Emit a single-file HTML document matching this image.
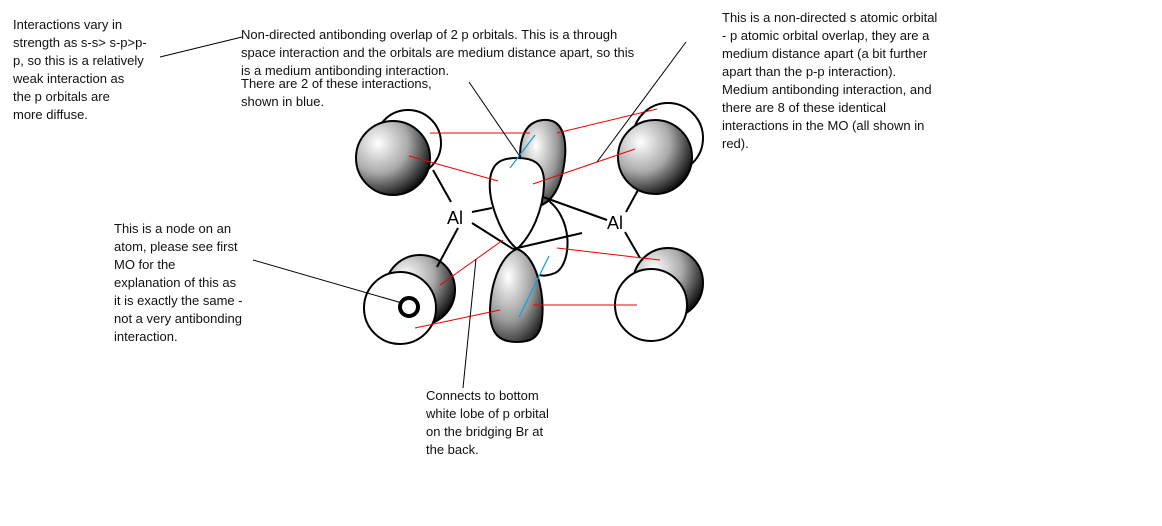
<!DOCTYPE html>
<html><head><meta charset="utf-8"><style>
body{margin:0;width:1162px;height:526px;background:#fff;position:relative;overflow:hidden;font-family:"Liberation Sans",sans-serif;}
.t{position:absolute;font-size:13px;line-height:18px;color:#111;white-space:nowrap;}
svg{position:absolute;left:0;top:0;}
</style></head><body>
<svg width="1162" height="526" viewBox="0 0 1162 526">
<defs>
<radialGradient id="g" cx="0.3" cy="0.3" r="0.8">
<stop offset="0" stop-color="#fff"/><stop offset="0.5" stop-color="#aaa"/><stop offset="0.9" stop-color="#222"/><stop offset="1" stop-color="#000"/>
</radialGradient>
<radialGradient id="g2" cx="0.35" cy="0.3" r="0.8">
<stop offset="0" stop-color="#fff"/><stop offset="0.6" stop-color="#999"/><stop offset="1" stop-color="#222"/>
</radialGradient>
</defs>
<g stroke="#000" stroke-width="2" fill="none">
<circle cx="408" cy="143" r="33" fill="#fff"/>
<circle cx="393" cy="158" r="37" fill="url(#g)"/>
<circle cx="668" cy="138" r="35" fill="#fff"/>
<circle cx="655" cy="157" r="37" fill="url(#g)"/>
<circle cx="420" cy="290" r="35" fill="url(#g)"/>
<circle cx="400" cy="308" r="36" fill="#fff"/>
<circle cx="409" cy="307" r="9" stroke-width="4"/>
<circle cx="668" cy="283" r="35" fill="url(#g)"/>
<circle cx="651" cy="305" r="36" fill="#fff"/>
<path d="M543 197 C575 215 572 265 555 273 C548 276 542 276 540 275" fill="none"/>
<path d="M525 190 C515 150 520 122 543 120 C568 118 568 150 562 175 C557 195 545 210 530 205 Z" fill="url(#g2)"/>
<path d="M517 249 C500 235 488 200 490 180 C492 160 505 158 517 158 C532 158 545 162 544 185 C543 210 532 235 517 249 Z" fill="#fff"/>
<path d="M517 249 C535 255 545 290 542 320 C540 340 528 342 517 342 C500 342 490 335 490 310 C491 280 502 255 517 249 Z" fill="url(#g2)"/>
<line x1="433" y1="170" x2="451" y2="202"/>
<line x1="458" y1="228" x2="437" y2="267"/>
<line x1="472" y1="212" x2="492" y2="208"/>
<line x1="472" y1="223" x2="513" y2="249"/>
<line x1="513" y1="249" x2="582" y2="233"/>
<line x1="543" y1="197" x2="607" y2="220"/>
<line x1="626" y1="212" x2="638" y2="190"/>
<line x1="625" y1="232" x2="640" y2="258"/>
</g>
<text x="447" y="224" font-family="Liberation Sans,sans-serif" font-size="18">Al</text>
<text x="607" y="229" font-family="Liberation Sans,sans-serif" font-size="18">Al</text>
<g stroke="#e00" stroke-width="1">
<line x1="430" y1="133" x2="530" y2="133"/>
<line x1="409" y1="156" x2="498" y2="181"/>
<line x1="557" y1="133" x2="657" y2="109"/>
<line x1="533" y1="184" x2="635" y2="149"/>
<line x1="440" y1="285" x2="503" y2="240"/>
<line x1="415" y1="328" x2="500" y2="310"/>
<line x1="557" y1="248" x2="660" y2="260"/>
<line x1="533" y1="305" x2="637" y2="305"/>
</g>
<g stroke="#1a9ee0" stroke-width="1.3">
<line x1="510" y1="168" x2="535" y2="135"/>
<line x1="519" y1="317" x2="549" y2="256"/>
</g>
<g stroke="#000" stroke-width="1">
<line x1="160" y1="57" x2="242" y2="37"/>
<line x1="469" y1="82" x2="521" y2="158"/>
<line x1="686" y1="42" x2="597" y2="162"/>
<line x1="253" y1="260" x2="402" y2="303"/>
<line x1="476" y1="259" x2="463" y2="388"/>
</g>
</svg>
<div class="t" style="left:13px;top:16px">Interactions vary in<br>strength as s-s&gt; s-p&gt;p-<br>p, so this is a relatively<br>weak interaction as<br>the p orbitals are<br>more diffuse.</div>
<div class="t" style="left:241px;top:26px">Non-directed antibonding overlap of 2 p orbitals. This is a through<br>space interaction and the orbitals are medium distance apart, so this<br>is a medium antibonding interaction.</div>
<div class="t" style="left:241px;top:75px">There are 2 of these interactions,<br>shown in blue.</div>
<div class="t" style="left:722px;top:9px">This is a non-directed s atomic orbital<br>- p atomic orbital overlap, they are a<br>medium distance apart (a bit further<br>apart than the p-p interaction).<br>Medium antibonding interaction, and<br>there are 8 of these identical<br>interactions in the MO (all shown in<br>red).</div>
<div class="t" style="left:114px;top:220px">This is a node on an<br>atom, please see first<br>MO for the<br>explanation of this as<br>it is exactly the same -<br>not a very antibonding<br>interaction.</div>
<div class="t" style="left:426px;top:387px">Connects to bottom<br>white lobe of p orbital<br>on the bridging Br at<br>the back.</div>
</body></html>
